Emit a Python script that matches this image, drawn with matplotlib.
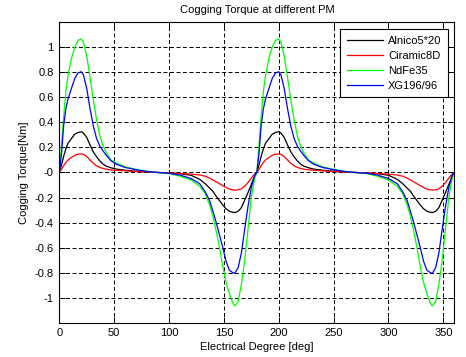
import matplotlib

matplotlib.use("Agg")
import matplotlib.pyplot as plt
import numpy as np
from matplotlib.ticker import FuncFormatter

# One electrical period (0..180 deg); the second
# half-turn (180..360 deg) repeats it.
angle = [0, 2, 4, 6, 8, 11, 14, 17, 20, 22, 25, 28, 31, 34, 37, 40, 43, 47, 52,
         60, 70, 80, 90, 100, 110, 120, 128, 133, 137, 140, 143, 146, 149, 152,
         155, 158, 160, 163, 166, 169, 172, 175, 178, 180]

alnico = [0.0, 0.06, 0.13, 0.19, 0.235, 0.27, 0.305, 0.32, 0.325, 0.315, 0.28,
          0.22, 0.165, 0.125, 0.092, 0.066, 0.05, 0.038, 0.027, 0.018, 0.01,
          0.004, 0.0, -0.004, -0.01, -0.022, -0.055, -0.09, -0.125, -0.15,
          -0.19, -0.225, -0.26, -0.29, -0.31, -0.318, -0.32, -0.31, -0.28,
          -0.22, -0.16, -0.095, -0.03, 0.0]

ciramic = [0.0, 0.025, 0.055, 0.08, 0.1, 0.12, 0.137, 0.146, 0.148, 0.145,
           0.127, 0.1, 0.073, 0.053, 0.04, 0.032, 0.026, 0.021, 0.018, 0.013,
           0.008, 0.004, 0.0, -0.003, -0.008, -0.013, -0.02, -0.03, -0.045,
           -0.06, -0.075, -0.09, -0.105, -0.12, -0.133, -0.139, -0.14, -0.139,
           -0.13, -0.11, -0.08, -0.045, -0.012, 0.0]

ndfe = [0.0, 0.22, 0.45, 0.65, 0.78, 0.91, 1.0, 1.055, 1.067, 1.04, 0.93, 0.76,
        0.58, 0.42, 0.29, 0.21, 0.155, 0.1, 0.075, 0.045, 0.025, 0.01, 0.0,
        -0.008, -0.03, -0.06, -0.11, -0.17, -0.26, -0.35, -0.47, -0.6, -0.75,
        -0.88, -0.97, -1.04, -1.067, -1.03, -0.89, -0.7, -0.45, -0.2, -0.05,
        0.0]

xg = [0.0, 0.15, 0.38, 0.51, 0.59, 0.67, 0.75, 0.795, 0.805, 0.78, 0.67, 0.51,
      0.37, 0.27, 0.21, 0.17, 0.135, 0.095, 0.065, 0.04, 0.022, 0.008, 0.0,
      -0.006, -0.021, -0.048, -0.09, -0.155, -0.225, -0.31, -0.4, -0.5, -0.6,
      -0.71, -0.78, -0.8, -0.805, -0.76, -0.64, -0.45, -0.27, -0.12, -0.025,
      0.0]

labels = ["Alnico5*20", "Ciramic8D", "NdFe35", "XG196/96"]
colors = ["black", "red", "#00ff00", "blue"]

plt.rcParams["font.family"] = ["Liberation Sans", "DejaVu Sans"]
plt.rcParams["font.size"] = 8
plt.rcParams["axes.unicode_minus"] = False


def full_turn(values):
    # second period continues from the end of the first
    values = np.asarray(values)
    return np.concatenate([values, values[1:]])


ang = np.asarray(angle)
x = np.concatenate([ang, ang[1:] + 180])

fig = plt.figure(figsize=(4.66, 3.57), dpi=100)
fig.patch.set_facecolor("white")
ax = fig.add_axes([0.1273, 0.0961, 0.8476, 0.8415])

for series, label, color in zip([alnico, ciramic, ndfe, xg], labels, colors):
    ax.plot(x, full_turn(series), color=color, linewidth=0.9, label=label)

ax.set_xlim(0, 360)
ax.set_ylim(-1.2, 1.2)
ax.set_xticks(np.arange(0, 351, 50))
ax.set_yticks(np.round(np.arange(-1.0, 1.01, 0.2), 1))
ax.yaxis.set_major_formatter(FuncFormatter(lambda v, pos: "%g" % round(v, 1)))

ax.grid(True, color="black", linestyle=(0, (4, 2.5)), linewidth=0.72)
ax.set_axisbelow(True)
ax.tick_params(direction="in", length=4, width=0.72, top=True, right=True,
               pad=4, colors="black")
for spine in ax.spines.values():
    spine.set_linewidth(0.8)

ax.set_title("Cogging Torque at different PM", fontsize=8, pad=7)
ax.set_xlabel("Electrical Degree [deg]", labelpad=3)
ax.set_ylabel("Cogging Torque[Nm]", labelpad=4)

leg = ax.legend(loc="upper right", bbox_to_anchor=(0.984, 0.978),
                borderaxespad=0, fancybox=False, framealpha=1,
                edgecolor="black", handlelength=3.3, handletextpad=0.4,
                labelspacing=0.45, borderpad=0.6)
leg.get_frame().set_linewidth(0.8)

fig.savefig("out.png", dpi=100, facecolor="white")
